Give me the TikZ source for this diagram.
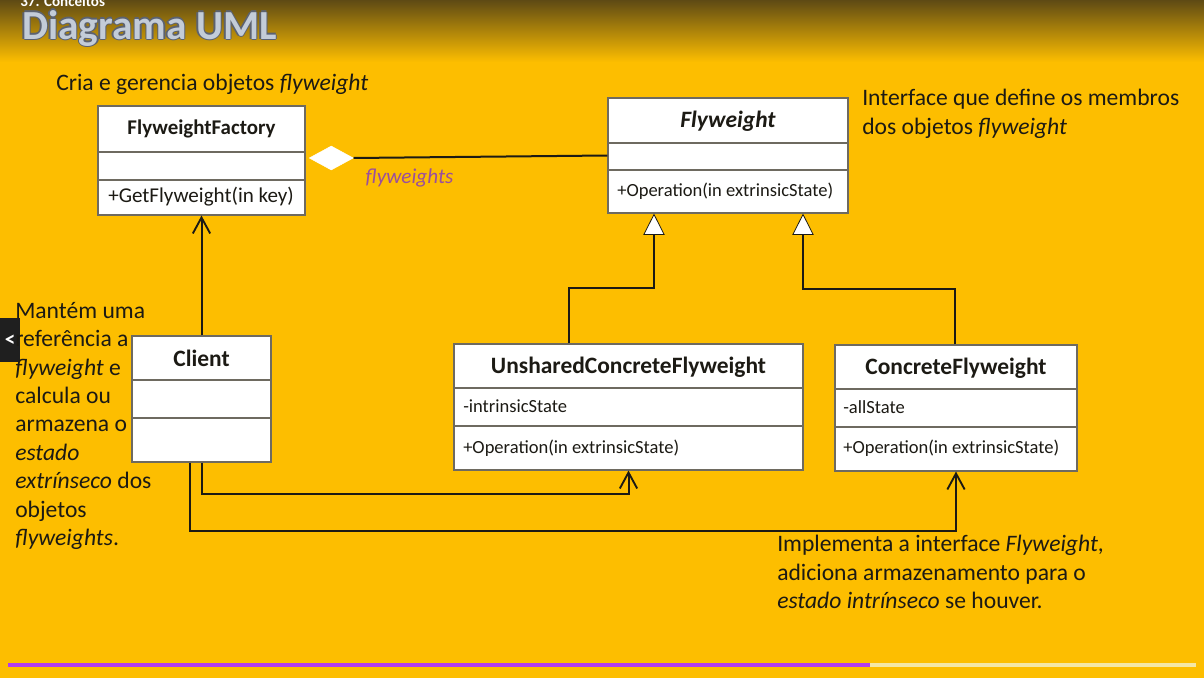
\documentclass[tikz,border=0pt]{standalone}
\usepackage{fontspec}
\setmainfont{Carlito}
\usetikzlibrary{arrows.meta,shapes.geometric,calc,fit}
\definecolor{bgyel}{HTML}{FDBE00}
\definecolor{topbrown}{HTML}{5E4A14}
\definecolor{ink}{HTML}{1C1A14}
\definecolor{purp}{HTML}{9A4E9E}
\definecolor{titlefill}{HTML}{C3CCD8}
\definecolor{titleline}{HTML}{5C6270}
\definecolor{barpurple}{HTML}{B23CF0}
\definecolor{barlight}{HTML}{F4E7A6}
\definecolor{boxline}{HTML}{6E6A60}
\tikzset{
  umlbox/.style={draw=boxline, line width=0.8pt, fill=white, inner sep=0pt},
  divider/.style={draw=boxline, line width=0.8pt},
  conn/.style={draw=ink, line width=1.5pt},
  dep/.style={conn, -{Straight Barb[length=12pt, width=13pt, line width=1.4pt]}},
  inh/.style={conn, -{Triangle[open, fill=white, length=16pt, width=16pt, line width=0.6pt]}},
  clstitle/.style={font=\fontsize{17.6}{20}\selectfont\bfseries, text=ink},
  member/.style={font=\fontsize{13.9}{16}\selectfont, text=ink, anchor=west, inner sep=0pt},
  note/.style={font=\fontsize{17.7}{21.3}\selectfont, text=ink, align=left, inner sep=0pt},
  titletext/.style={anchor=base west, font=\fontsize{31}{34}\selectfont\bfseries, inner sep=0pt},
}
\begin{document}
\begin{tikzpicture}[x=0.75pt, y=-0.75pt]
\useasboundingbox (0,0) rectangle (1204,678);
% background
\fill[bgyel] (0,0) rectangle (1204,678);
\shade[top color=topbrown, bottom color=bgyel] (0,0) rectangle (1204,62);
% progress bar
\fill[barpurple] (8,663) rectangle (870,667);
\fill[barlight] (870,663) rectangle (1196,667);
% left button
\node[fill=black!88, minimum width=15pt, minimum height=33pt, anchor=north west, inner sep=0pt,
      text=white, font=\fontsize{16}{16}\selectfont\bfseries] (btn) at (0,318) {<};
% header
\node[anchor=west, text=white, font=\fontsize{11.3}{12}\selectfont\bfseries, inner sep=0pt] (chap) at (20,1) {37. Conceitos};
\foreach \dx/\dy in {-1.5/0,1.5/0,0/-1.5,0/1.5}{
  \node[titletext, text=titleline] at (22+\dx,39+\dy) {Diagrama UML};
}
\node[titletext, text=titlefill] (title) at (22,39) {Diagrama UML};

% classes
\node[umlbox, fit={(98,106) (305,215)}] (ff) {};
\draw[divider] (98,152) -- (305,152) (98,180) -- (305,180);
\node[clstitle, font=\fontsize{15.7}{18}\selectfont\bfseries] (fft) at (201.5,129) {FlyweightFactory};
\node[member, font=\fontsize{15.8}{18}\selectfont] (ffm) at (108,197) {+GetFlyweight(in key)};

\node[umlbox, fit={(608,98) (848,213)}] (fw) {};
\draw[divider] (608,143) -- (848,143) (608,170) -- (848,170);
\node[clstitle, font=\fontsize{17.6}{20}\selectfont\bfseries\itshape] (fwt) at (728,121) {Flyweight};
\node[member] (fwm) at (617,191) {+Operation(in extrinsicState)};

\node[umlbox, fit={(132,336) (271,462)}] (cl) {};
\draw[divider] (132,380) -- (271,380) (132,418) -- (271,418);
\node[clstitle] (clt) at (201.5,358) {Client};

\node[umlbox, fit={(454,344) (803,470)}] (uc) {};
\draw[divider] (454,388) -- (803,388) (454,426) -- (803,426);
\node[clstitle] (uct) at (628.5,367) {UnsharedConcreteFlyweight};
\node[member] (uca) at (463,406) {-intrinsicState};
\node[member] (ucm) at (463,448) {+Operation(in extrinsicState)};

\node[umlbox, fit={(835,345) (1077,471)}] (cf) {};
\draw[divider] (835,389) -- (1077,389) (835,427) -- (1077,427);
\node[clstitle] (cft) at (956,368) {ConcreteFlyweight};
\node[member] (cfa) at (843,407) {-allState};
\node[member] (cfm) at (843,448) {+Operation(in extrinsicState)};

% aggregation
\node[diamond, draw=white, fill=white, aspect=1.9, minimum width=33pt, minimum height=18pt, inner sep=0pt, anchor=west] (dia) at (309,158) {};
\draw[conn] (dia.east) -- (fw.west);
\node[font=\fontsize{15.9}{18}\selectfont\itshape, text=purp] (agl) at (409.5,178) {flyweights};

% inheritance
\draw[inh] ($(uc.north)+(-59.5,0)$) -- ++(0,-55) -| ($(fw.south)+(-74,0)$);
\draw[inh] ($(cf.north)+(-1,0)$) -- ++(0,-55) -| ($(fw.south)+(75,0)$);

% dependencies from client
\draw[dep] (cl.north) -- (ff.south);
\draw[dep] (cl.south) -- ++(0,31) -| (uc.south);
\draw[dep] ($(cl.south)+(-12,0)$) -- ++(0,68) -| (cf.south);

% notes
\node[note, anchor=west] (n1) at (56,84) {Cria e gerencia objetos \textit{flyweight}};
\node[note, anchor=north west] (n2) at (862,89) {Interface que define os membros\\dos objetos \textit{flyweight}};
\node[note, anchor=north west] (n3) at (15,302) {Mantém uma\\referência a\\\textit{flyweight} e\\calcula ou\\armazena o\\\textit{estado}\\\textit{extrínseco} dos\\objetos\\\textit{flyweights}.};
\node[note, anchor=north west] (n4) at (777,535) {Implementa a interface \textit{Flyweight},\\adiciona armazenamento para o\\\textit{estado intrínseco} se houver.};
\end{tikzpicture}
\end{document}
